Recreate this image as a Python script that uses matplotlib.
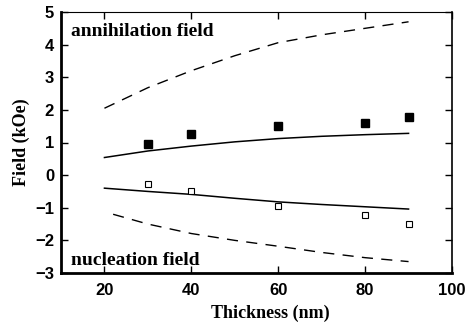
import matplotlib
matplotlib.use("Agg")
import matplotlib.pyplot as plt

# measured points
thick = [30, 40, 60, 80, 90]
annih = [0.94, 1.25, 1.50, 1.59, 1.78]
nucl = [-0.26, -0.49, -0.96, -1.21, -1.51]

# calculated curves
calc_x = [20, 30, 40, 50, 60, 70, 80, 90]
calc_annih = [0.54, 0.74, 0.89, 1.02, 1.12, 1.19, 1.24, 1.28]
calc_nucl = [-0.40, -0.50, -0.59, -0.71, -0.82, -0.90, -0.97, -1.04]
dash_x = [20, 30, 40, 50, 60, 70, 80, 90]
dash_annih = [2.05, 2.68, 3.20, 3.66, 4.06, 4.30, 4.50, 4.70]
dash_nx = [22, 30, 40, 50, 60, 70, 80, 90]
dash_nucl = [-1.20, -1.50, -1.79, -2.00, -2.18, -2.37, -2.53, -2.65]

serif = "Liberation Serif"
sans = "Liberation Sans"

fig = plt.figure(figsize=(4.68, 3.31), dpi=100)
ax = fig.add_axes([61 / 468, 1 - 273 / 331, (452 - 61) / 468, (273 - 12) / 331])

ax.plot(calc_x, calc_annih, color="black", lw=1.1)
ax.plot(calc_x, calc_nucl, color="black", lw=1.1)
ax.plot(dash_x, dash_annih, color="black", lw=1.0, dashes=(8, 6))
ax.plot(dash_nx, dash_nucl, color="black", lw=1.0, dashes=(8, 6))
ax.plot(thick, annih, "s", color="black", ms=5.5)
ax.plot(thick, nucl, "s", mfc="white", mec="black", mew=0.8, ms=4.5)

ax.set_xlim(10, 100)
ax.set_ylim(-3, 5)
ax.set_xticks([20, 40, 60, 80, 100])
ax.set_yticks(range(-3, 6))
ax.tick_params(direction="in", length=5, width=1, top=True, right=True)
for lab in ax.get_xticklabels() + ax.get_yticklabels():
    lab.set_fontfamily(sans)
    lab.set_fontweight("bold")
    lab.set_fontsize(12)
ax.tick_params(axis="x", pad=7)
ax.tick_params(axis="y", pad=5)
ax.spines["left"].set_linewidth(2)
ax.spines["bottom"].set_linewidth(2)
ax.spines["top"].set_linewidth(0.8)
ax.spines["right"].set_linewidth(1.2)

ax.set_xlabel("Thickness (nm)", family=serif, weight="bold", fontsize=13)
ax.set_ylabel("Field (kOe)", family=serif, weight="bold", fontsize=13)
ax.xaxis.set_label_coords(0.535, -0.12)

ax.text(12.3, 4.27, "annihilation field", family=serif, weight="bold", fontsize=14)
ax.text(12.3, -2.74, "nucleation field", family=serif, weight="bold", fontsize=14)

fig.savefig("out.png", dpi=100)
